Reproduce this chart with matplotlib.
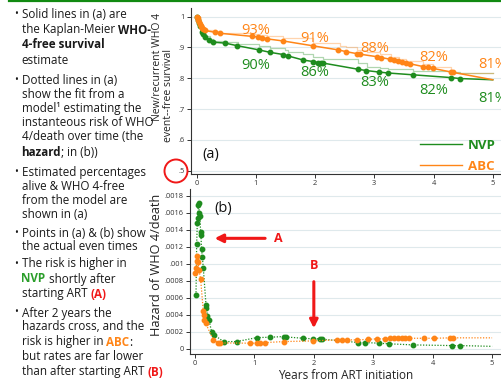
import matplotlib
matplotlib.use("Agg")
import matplotlib.pyplot as plt
from matplotlib.lines import Line2D
from matplotlib.patches import Ellipse

# ---- data --------------------------------------------------------------
# (a) model fit (survival) and event times, NVP
nvp_fit_t = [0, 0.02, 0.04, 0.056, 0.084, 0.11, 0.14, 0.20, 0.28, 0.48, 0.675,
             1.05, 1.24, 1.46, 1.55, 1.80, 1.97, 2.05, 2.10, 2.14, 2.73, 2.86,
             3.08, 3.23, 3.66, 4.30, 4.44, 5.0]
nvp_fit_s = [1.0, 0.99, 0.978, 0.968, 0.951, 0.943, 0.935, 0.924, 0.917,
             0.914, 0.906, 0.892, 0.884, 0.877, 0.872, 0.859, 0.854, 0.851,
             0.850, 0.849, 0.829, 0.825, 0.820, 0.817, 0.811, 0.802, 0.799,
             0.795]
# (a) model fit, ABC
abc_fit_t = [0, 0.015, 0.03, 0.045, 0.056, 0.07, 0.08, 0.095, 0.11, 0.14,
             0.31, 0.39, 0.93, 1.04, 1.10, 1.18, 1.46, 1.97, 2.39, 2.53, 2.70,
             2.76, 3.04, 3.12, 3.26, 3.33, 3.40, 3.47, 3.53, 3.60, 3.82, 3.90,
             3.99, 4.30, 4.33, 5.0]
abc_fit_s = [1.0, 0.994, 0.989, 0.982, 0.976, 0.971, 0.968, 0.964, 0.960,
             0.955, 0.949, 0.946, 0.936, 0.934, 0.932, 0.928, 0.921, 0.905,
             0.892, 0.886, 0.880, 0.878, 0.870, 0.867, 0.862, 0.859, 0.856,
             0.853, 0.850, 0.847, 0.838, 0.835, 0.832, 0.820, 0.819, 0.795]

# (a) Kaplan-Meier steps
nvp_km_t = [0, 0.02, 0.04, 0.06, 0.08, 0.11, 0.15, 0.22, 0.28, 0.51, 0.70,
            1.05, 1.24, 1.49, 1.55, 1.80, 1.97, 2.14, 2.73, 2.87, 3.09, 3.23,
            3.66, 4.30, 4.44, 5.0]
nvp_km_s = [1.0, 0.988, 0.975, 0.963, 0.953, 0.945, 0.937, 0.928, 0.921,
            0.916, 0.911, 0.903, 0.898, 0.892, 0.886, 0.878, 0.870, 0.862,
            0.850, 0.838, 0.833, 0.829, 0.824, 0.820, 0.816, 0.816]
abc_km_t = [0, 0.03, 0.056, 0.08, 0.11, 0.14, 0.31, 0.39, 0.90, 1.07, 1.18,
            1.46, 1.97, 2.42, 2.53, 2.70, 2.87, 3.09, 3.28, 3.42, 3.54, 3.82,
            3.99, 4.30, 5.0]
abc_km_s = [1.0, 0.99, 0.98, 0.972, 0.965, 0.958, 0.952, 0.948, 0.942, 0.94,
            0.937, 0.93, 0.915, 0.905, 0.9, 0.893, 0.885, 0.878, 0.87, 0.862,
            0.855, 0.845, 0.835, 0.818, 0.818]

# (a) model percentages at years 1..5
pct_years = [1, 2, 3, 4, 5]
nvp_pct = ["90%", "86%", "83%", "82%", "81%"]
nvp_pct_y = [0.841, 0.818, 0.787, 0.760, 0.733]
abc_pct = ["93%", "91%", "88%", "82%", "81%"]
abc_pct_y = [0.955, 0.930, 0.895, 0.868, 0.846]

# (b) hazard at event times
nvp_haz_t = [0.017, 0.028, 0.039, 0.045, 0.056, 0.062, 0.073, 0.08, 0.095,
             0.10, 0.11, 0.124, 0.14, 0.185, 0.19, 0.21, 0.235, 0.28, 0.32,
             0.48, 0.70, 1.04, 1.26, 1.49, 1.54, 1.82, 1.99, 2.10, 2.13,
             2.75, 2.86, 3.09, 3.26, 3.67, 4.32, 4.46, 5.0]
nvp_haz_h = [0.00063, 0.00123, 0.00148, 0.00154, 0.00169, 0.00171, 0.00160,
             0.00156, 0.00138, 0.00134, 0.00118, 0.00108, 0.00095, 0.00052,
             0.00048, 0.00039, 0.00034, 0.00020, 0.000165, 0.000086,
             0.000086, 0.000133, 0.000137, 0.000145, 0.00014, 0.000125,
             0.000118, 0.000118, 0.000115, 0.000075, 0.000075, 0.000067,
             0.00006, 0.000047, 0.000039, 0.000039, 0.00003]
abc_haz_t = [0.0, 0.017, 0.028, 0.039, 0.05, 0.065, 0.095, 0.14, 0.15, 0.16,
             0.18, 0.31, 0.39, 0.42, 0.93, 1.04, 1.10, 1.18, 1.49, 1.99,
             2.39, 2.47, 2.55, 2.72, 2.92, 3.06, 3.20, 3.29, 3.35, 3.42,
             3.48, 3.54, 3.60, 3.85, 4.02, 4.30, 4.34, 5.0]
abc_haz_h = [0.00089, 0.00095, 0.00103, 0.00109, 0.00102, 0.00093, 0.00082,
             0.00044, 0.00040, 0.00034, 0.00030, 0.000106, 0.000074, 0.00007,
             0.000067, 0.000067, 0.000074, 0.000074, 0.000086, 0.000094,
             0.000106, 0.000106, 0.000106, 0.000106, 0.000112, 0.000118,
             0.000118, 0.000125, 0.000125, 0.000125, 0.000125, 0.000125,
             0.000125, 0.000125, 0.000125, 0.00013, 0.00013, 0.00013]

surv_ticks = [0.5, 0.6, 0.7, 0.8, 0.9, 1.0]
surv_labels = [".5", ".6", ".7", ".8", ".9", "1"]
haz_ticks = [0, 0.0002, 0.0004, 0.0006, 0.0008, 0.001, 0.0012, 0.0014,
             0.0016, 0.0018]
haz_labels = ["0", ".0002", ".0004", ".0006", ".0008", ".001", ".0012",
              ".0014", ".0016", ".0018"]
year_ticks = [0, 1, 2, 3, 4, 5]

# left column: (y px, bullet?, [(text, style), ...])
text_lines = [
    (15, True, [("Solid lines in (a) are", "n")]),
    (30, False, [("the Kaplan-Meier ", "n"), ("WHO-", "b")]),
    (45, False, [("4-free survival", "b")]),
    (60, False, [("estimate", "n")]),
    (80, True, [("Dotted lines in (a)", "n")]),
    (94, False, [("show the fit from a", "n")]),
    (108, False, [("model\u00b9 estimating the", "n")]),
    (123, False, [("instanteous risk of WHO", "n")]),
    (137, False, [("4/death over time (the", "n")]),
    (152, False, [("hazard", "b"), ("; in (b))", "n")]),
    (173, True, [("Estimated percentages", "n")]),
    (187, False, [("alive & WHO 4-free", "n")]),
    (201, False, [("from the model are", "n")]),
    (215, False, [("shown in (a)", "n")]),
    (233, True, [("Points in (a) & (b) show", "n")]),
    (247, False, [("the actual even times", "n")]),
    (264, True, [("The risk is higher in", "n")]),
    (279, False, [("NVP", "g"), (" shortly after", "n")]),
    (294, False, [("starting ART ", "n"), ("(A)", "r")]),
    (313, True, [("After 2 years the", "n")]),
    (327, False, [("hazards cross, and the", "n")]),
    (342, False, [("risk is higher in ", "n"), ("ABC", "o"), (":", "n")]),
    (357, False, [("but rates are far lower", "n")]),
    (372, False, [("than after starting ART ", "n"), ("(B)", "r")]),
]

GREEN = "#1e8c1e"
ORANGE = "#ff8517"
RED = "#f01818"
GRID = "#dfe9ec"
W, H = 501, 383

plt.rcParams["font.family"] = ["Open Sans", "DejaVu Sans"]

fig = plt.figure(figsize=(W / 100, H / 100), dpi=100)
fig.patch.set_facecolor("white")


def fx(px):
    return px / W


def fy(py):
    return 1 - py / H


# green rule along the top of the slide
fig.add_artist(Line2D([fx(9), 1], [fy(0.8), fy(0.8)], color="#118a11",
                      lw=1.6, transform=fig.transFigure))

# ---- left text column ---------------------------------------------------
styles = {
    "n": dict(color="#1a1a1a"),
    "b": dict(color="#1a1a1a", weight="bold"),
    "g": dict(color="#2a9e2a", weight="bold"),
    "o": dict(color=ORANGE, weight="bold"),
    "r": dict(color=RED, weight="bold"),
}
renderer = fig.canvas.get_renderer()
for y, bullet, parts in text_lines:
    if bullet:
        fig.text(fx(14.5), fy(y), "\u2022", fontsize=7.5, va="center",
                 color="#1a1a1a")
    x = fx(21.5)
    for s, st in parts:
        t = fig.text(x, fy(y), s, fontsize=8.4, va="center", **styles[st])
        x += t.get_window_extent(renderer).width / W

# ---- panel (a) ----------------------------------------------------------
ax = fig.add_axes([fx(191), fy(174), fx(501) - fx(191), fy(8) - fy(174)])
ax.set_xlim(-0.096, 5.14)
ax.set_ylim(0.489, 1.028)
ax.step(nvp_km_t, nvp_km_s, where="post", color=GREEN, lw=0.9, alpha=0.35)
ax.step(abc_km_t, abc_km_s, where="post", color=ORANGE, lw=0.9, alpha=0.35)
ax.plot(nvp_fit_t, nvp_fit_s, color=GREEN, lw=1.1, marker="o", ms=3.2,
        markevery=list(range(len(nvp_fit_t) - 1)))
ax.plot(abc_fit_t, abc_fit_s, color=ORANGE, lw=1.1, marker="o", ms=3.2,
        markevery=list(range(len(abc_fit_t) - 1)))
for yr, lab, yv in zip(pct_years, nvp_pct, nvp_pct_y):
    ax.text(yr, yv, lab, color=GREEN, fontsize=10.5, ha="center",
            va="center", clip_on=False)
for yr, lab, yv in zip(pct_years, abc_pct, abc_pct_y):
    ax.text(yr, yv, lab, color=ORANGE, fontsize=10.5, ha="center",
            va="center", clip_on=False)
ax.text(0.1, 0.551, "(a)", fontsize=10.5, color="#111", va="center")
ax.set_yticks(surv_ticks)
ax.set_yticklabels(surv_labels)
ax.set_xticks(year_ticks)
handles = [Line2D([], [], color=GREEN, lw=1), Line2D([], [], color=ORANGE,
                                                     lw=1)]
leg = ax.legend(handles, ["NVP", "ABC"], loc="lower right", frameon=False,
                fontsize=9.5, handlelength=3.2, handletextpad=0.45,
                labelspacing=0.6, borderaxespad=0.0,
                bbox_to_anchor=(1.0, -0.025))
for txt, c in zip(leg.get_texts(), [GREEN, ORANGE]):
    txt.set_color(c)
    txt.set_weight("bold")

# ---- panel (b) ----------------------------------------------------------
bx = fig.add_axes([fx(190), fy(354), fx(501) - fx(190), fy(189) - fy(354)])
bx.set_xlim(-0.084, 5.15)
bx.set_ylim(-0.00006, 0.00188)
bx.plot(nvp_haz_t, nvp_haz_h, color=GREEN, lw=0.9, ls=(0, (1, 1.3)),
        marker="o", ms=3.2, markevery=list(range(len(nvp_haz_t) - 1)))
bx.plot(abc_haz_t, abc_haz_h, color=ORANGE, lw=0.9, ls=(0, (1, 1.3)),
        marker="o", ms=3.2, markevery=list(range(len(abc_haz_t) - 1)))
bx.text(0.32, 0.00165, "(b)", fontsize=10.5, color="#111", va="center")
bx.set_yticks(haz_ticks)
bx.set_yticklabels(haz_labels)
bx.set_xticks(year_ticks)
bx.set_xlabel("Years from ART initiation", fontsize=8.5, labelpad=1,
              color="#222")
bx.annotate("", xy=(0.33, 0.0013), xytext=(1.18, 0.0013),
            arrowprops=dict(arrowstyle="-|>", color=RED, lw=2.2,
                            mutation_scale=12, shrinkA=0, shrinkB=0))
bx.text(1.41, 0.0013, "A", color=RED, fontsize=9, weight="bold",
        ha="center", va="center")
bx.annotate("", xy=(2.0, 0.000243), xytext=(2.0, 0.00079),
            arrowprops=dict(arrowstyle="-|>", color=RED, lw=2.2,
                            mutation_scale=12, shrinkA=0, shrinkB=0))
bx.text(2.0, 0.00098, "B", color=RED, fontsize=9, weight="bold",
        ha="center", va="center")

for a in (ax, bx):
    for side in ("top", "right"):
        a.spines[side].set_visible(False)
    for side in ("left", "bottom"):
        a.spines[side].set_color("#333")
        a.spines[side].set_linewidth(0.8)
    a.tick_params(labelsize=5.4, length=3, width=0.7, colors="#333",
                  pad=1.5)
    a.grid(axis="y", color=GRID, lw=0.8)
    a.set_axisbelow(True)

# axis titles as figure text
fig.text(fx(157), fy(67), "New/recurrent WHO 4", rotation=90, fontsize=7.5,
         ha="center", va="center", color="#222")
fig.text(fx(168.5), fy(95), "event--free survival", rotation=90,
         fontsize=7.5, ha="center", va="center", color="#222")
fig.text(fx(157), fy(265), "Hazard of WHO 4/death", rotation=90,
         fontsize=9.2, ha="center", va="center", color="#222")

# red circle around the ".5" tick
fig.add_artist(Ellipse((fx(176), fy(171)), 23 / W, 23 / H, fill=False,
                       edgecolor=RED, lw=1.4, transform=fig.transFigure))

fig.savefig("out.png", dpi=100)
